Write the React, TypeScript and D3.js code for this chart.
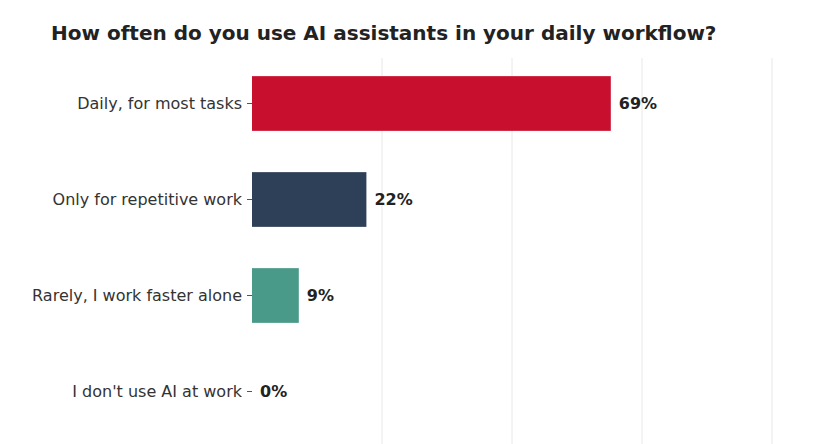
import React from "react";
import * as d3 from "d3";

const categories = [
  "Daily, for most tasks",
  "Only for repetitive work",
  "Rarely, I work faster alone",
  "I don't use AI at work",
];
const values = [69, 22, 9, 0];
const colors = ["#C8102E", "#2E3F58", "#4A9A8A", "#999999"];
const xTicks = [25, 50, 75, 100];
const title = "How often do you use AI assistants in your daily workflow?";

const W = 840;
const H = 444;
const left = 252;
const right = 772;
const top = 55.5;
const bottom = 439.5;

export default function App() {
  const x = d3.scaleLinear().domain([0, 100]).range([left, right]);
  const y = d3
    .scaleBand<string>()
    .domain(categories)
    .range([top, bottom])
    .paddingInner(0.43)
    .paddingOuter(0.215);
  const font = "'DejaVu Sans', Verdana, sans-serif";
  return (
    <div style={{ position: "absolute", left: 0, top: 0 }}>
      <svg width={W} height={H} style={{ display: "block", background: "#fff" }} fontFamily={font}>
        <text x={51} y={40} fontSize={20} fontWeight="bold" fill="#222">
          {title}
        </text>
        {xTicks.map((t) => (
          <line key={t} x1={x(t)} x2={x(t)} y1={58} y2={H} stroke="#e8e8e8" strokeWidth={1} />
        ))}
        {categories.map((c, i) => {
          const yc = (y(c) as number) + y.bandwidth() / 2;
          return (
            <g key={c}>
              <line x1={left - 5} x2={left} y1={yc} y2={yc} stroke="#555" strokeWidth={1} />
              <text x={left - 10} y={yc} dy="0.35em" textAnchor="end" fontSize={16} fill="#333">
                {c}
              </text>
              {values[i] > 0 && (
                <rect
                  x={x(0)}
                  y={y(c)}
                  width={x(values[i]) - x(0)}
                  height={y.bandwidth()}
                  fill={colors[i]}
                />
              )}
              <text
                x={x(values[i]) + 8}
                y={yc}
                dy="0.35em"
                fontSize={16}
                fontWeight="bold"
                fill="#222"
              >
                {values[i] + "%"}
              </text>
            </g>
          );
        })}
      </svg>
    </div>
  );
}
